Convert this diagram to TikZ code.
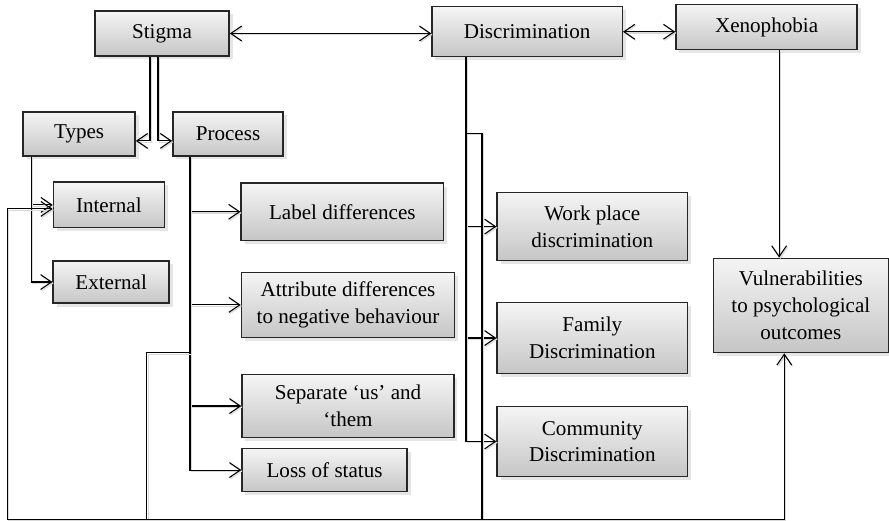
\documentclass[tikz,border=0pt]{standalone}
\usepackage{fontspec}
\setmainfont{Liberation Serif}
\usepackage{xcolor}
\usepackage{tikz}
\usetikzlibrary{arrows.meta,shadows}

\begin{document}
\begin{tikzpicture}[node distance=1cm,
  box/.style={rectangle, draw=black!85, line width=0.7pt, top color=gray!8, bottom color=gray!45, drop shadow={shadow xshift=0.6mm, shadow yshift=-0.6mm, fill=gray!40}, text centered, align=center, inner sep=0pt, font=\fontsize{10.5}{13.3}\selectfont},
  link/.style={black, line width=0.55pt, preaction={draw=gray!30, line width=0.55pt, transform canvas={xshift=0.6pt, yshift=-0.6pt}}},
  >={Straight Barb[length=1.9mm, width=2.6mm]}]
\useasboundingbox (-2.835,0.586) rectangle (12.7225,-8.531);

\node (stigma) [box, minimum width=2.35cm, minimum height=0.79cm] {Stigma};

\node (discrim) [box, minimum width=3.33cm, minimum height=0.875cm, right of=stigma, xshift=5.39cm, yshift=0.03cm] {Discrimination};

\node (xeno) [box, minimum width=3.17cm, minimum height=0.79cm, right of=discrim, xshift=3.19cm, yshift=0.08cm] {Xenophobia};

\node (types) [box, minimum width=1.96cm, minimum height=0.77cm, below of=stigma, xshift=-1.45cm, yshift=-0.76cm] {Types};

\node (process) [box, minimum width=1.93cm, minimum height=0.77cm, below of=stigma, xshift=1.155cm, yshift=-0.76cm] {Process};

\node (internal) [box, minimum width=1.94cm, minimum height=0.8cm, below of=types, xshift=0.52cm, yshift=-0.24cm] {Internal};

\node (external) [box, minimum width=2.03cm, minimum height=0.74cm, below of=internal, xshift=0.04cm, yshift=-0.35cm] {External};

\node (label) [box, minimum width=3.54cm, minimum height=1cm, below of=process, xshift=2cm, yshift=-0.36cm] {Label differences};

\node (attrib) [box, minimum width=3.73cm, minimum height=1.14cm, below of=label, xshift=0.1cm, yshift=-0.63cm] {Attribute differences\\ to negative behaviour};

\node (separate) [box, minimum width=3.71cm, minimum height=1.1cm, below of=attrib, yshift=-0.77cm] {Separate `us' and\\ `them};

\node (loss) [box, minimum width=2.89cm, minimum height=0.75cm, below of=separate, xshift=-0.41cm, yshift=-0.12cm] {Loss of status};

\node (work) [box, minimum width=3.33cm, minimum height=1.19cm, below of=discrim, xshift=1.14cm, yshift=-2.41cm] {Work place\\ discrimination};

\node (family) [box, minimum width=3.33cm, minimum height=1.24cm, below of=work, yshift=-0.95cm] {Family\\ Discrimination};

\node (community) [box, minimum width=3.33cm, minimum height=1.23cm, below of=family, yshift=-0.81cm] {Community\\ Discrimination};

\node (vuln) [box, minimum width=3.06cm, minimum height=1.65cm, below of=xeno, xshift=0.6cm, yshift=-3.87cm] {Vulnerabilities\\ to psychological\\ outcomes};

% branch points of the connectors
\coordinate (ttop) at ([xshift=-0.84cm]types.south);
\coordinate (ptop) at ([xshift=-0.665cm]process.south);
\coordinate (dtop) at ([xshift=-1.07cm]discrim.south);
\coordinate (dsplit) at ([yshift=-1.33cm]dtop);
\coordinate (xdown) at ([xshift=0.22cm]xeno.south);
\coordinate [below of=loss, yshift=0.13cm] (low);
\coordinate [left of=internal, xshift=-0.78cm, yshift=-0.07cm] (back);
\coordinate [below of=process, xshift=-1.42cm, yshift=-2.83cm] (pjoin);

\draw[link, <->] (stigma.east) -- (stigma.east -| discrim.west);
\draw[link, <->] (discrim.east) -- (discrim.east -| xeno.west);
\draw[link, ->] ([xshift=-0.21cm]stigma.south) |- ([yshift=-0.12cm]types.east);
\draw[link, ->] ([xshift=-0.07cm]stigma.south) |- ([yshift=-0.12cm]process.west);

\draw[link, ->] (ttop) |- (internal);
\draw[link, ->] (ttop) |- (external);

\draw[link, ->] (ptop) |- (label);
\draw[link, ->] (ptop) |- (attrib);
\draw[link, ->] (ptop) |- (separate);
\draw[link, ->] (ptop) |- (loss);
\draw[link] (ptop |- pjoin) -- (pjoin) -- (pjoin |- low);

\draw[link, ->] (dtop) |- (work);
\draw[link, ->] (dtop) |- (family);
\draw[link, ->] (dtop) |- (community);
\draw[link] (dsplit) -- ++(0.28,0) coordinate (dside) -- (dside |- low);

\draw[link, ->] (xdown) -- (xdown |- vuln.north);
\draw[link, <->] (back -| internal.west) -- (back) |- (low) -| ([xshift=-0.29cm]vuln.south);

\end{tikzpicture}
\end{document}
